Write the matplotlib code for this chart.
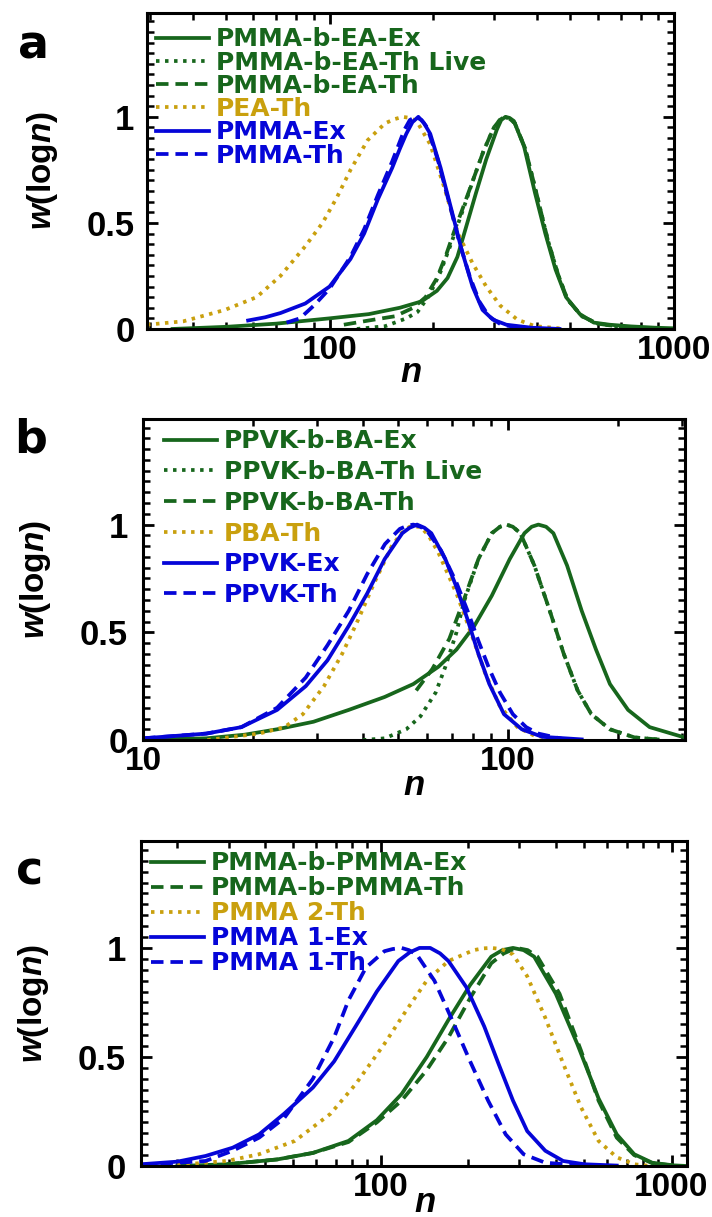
import matplotlib
matplotlib.use("Agg")
import matplotlib.pyplot as plt
from matplotlib.ticker import LogLocator, NullFormatter, MultipleLocator, FuncFormatter

plt.rcParams['font.family'] = ['Liberation Sans', 'DejaVu Sans']
plt.rcParams['font.weight'] = 'bold'
plt.rcParams['mathtext.fontset'] = 'custom'
plt.rcParams['mathtext.it'] = 'Liberation Sans:italic:bold'
plt.rcParams['mathtext.rm'] = 'Liberation Sans:bold'
plt.rcParams['lines.scale_dashes'] = False

GREEN = '#17661c'
GOLD = '#c9a00e'
BLUE = '#0505d8'

SOLID = '-'
DASHED = (0, (9, 5))
DOTTED = (0, (2.5, 4))

# ---------------- panel a ----------------
a_bEA_ex_n = [35, 50, 70, 100, 130, 160, 185, 205, 220, 235, 248, 266, 285, 306, 315, 324, 333, 343,
              367, 395, 423, 453, 486, 533, 585, 650, 750, 880, 1000]
a_bEA_ex_w = [0.0, 0.01, 0.025, 0.05, 0.07, 0.1, 0.13, 0.18, 0.24, 0.34, 0.47, 0.64, 0.8, 0.94, 0.985,
              1.0, 0.995, 0.98, 0.86, 0.64, 0.45, 0.28, 0.15, 0.07, 0.03, 0.02, 0.012, 0.006, 0.003]
a_bEA_live_n = [120, 145, 167, 180, 195, 210, 225, 245, 262, 280, 300, 312, 322, 334, 345, 370, 400,
                430, 460, 490, 540, 600, 700]
a_bEA_live_w = [0.0, 0.013, 0.05, 0.08, 0.16, 0.27, 0.4, 0.57, 0.71, 0.84, 0.95, 0.985, 1.0, 0.99,
                0.97, 0.85, 0.63, 0.42, 0.26, 0.14, 0.06, 0.025, 0.01]
a_bEA_th_n = [110, 130, 155, 175, 190, 205, 218, 230, 245, 262, 280, 300, 312, 322, 334, 345, 370, 400,
              430, 460, 490, 540, 600, 700, 850]
a_bEA_th_w = [0.02, 0.04, 0.06, 0.1, 0.15, 0.24, 0.35, 0.46, 0.58, 0.71, 0.84, 0.95, 0.985, 1.0, 0.99,
              0.97, 0.85, 0.63, 0.42, 0.26, 0.14, 0.06, 0.025, 0.01, 0.003]
a_pea_th_n = [29.5, 37.6, 49.7, 61.4, 72, 85, 95.4, 105, 115, 129, 145, 155, 163, 171, 179, 196, 215,
              236, 260, 285, 313, 351, 395, 465]
a_pea_th_w = [0.02, 0.036, 0.09, 0.15, 0.25, 0.39, 0.5, 0.62, 0.75, 0.89, 0.97, 0.99, 1.0, 0.995, 0.98,
              0.87, 0.67, 0.45, 0.31, 0.2, 0.11, 0.044, 0.013, 0.003]
a_pmma_ex_n = [58, 65, 72, 85, 100, 115, 126, 138, 152, 160, 167, 174, 181, 188, 196, 210, 226, 242,
               260, 278, 298, 326, 385, 465]
a_pmma_ex_w = [0.04, 0.055, 0.075, 0.12, 0.2, 0.33, 0.45, 0.61, 0.76, 0.85, 0.92, 0.975, 1.0, 0.97,
               0.92, 0.76, 0.56, 0.37, 0.2, 0.09, 0.044, 0.02, 0.006, 0.0]
a_pmma_th_n = [75, 82, 90, 100, 115, 126, 138, 152, 165, 171, 178, 185, 192, 206, 222, 238, 255, 272,
               290, 315, 360, 430]
a_pmma_th_w = [0.03, 0.05, 0.11, 0.19, 0.34, 0.47, 0.63, 0.79, 0.94, 0.985, 1.0, 0.985, 0.95, 0.8,
               0.6, 0.41, 0.25, 0.13, 0.06, 0.02, 0.005, 0.0]

# ---------------- panel b ----------------
b_bBA_ex_n = [10, 14.9, 19, 23.3, 29.3, 36.6, 45.9, 55, 64.4, 72.2, 80.8, 90.2, 101, 110.8, 116, 121,
              127, 133, 145, 159, 174, 190, 213, 244, 300]
b_bBA_ex_w = [0.002, 0.008, 0.025, 0.05, 0.085, 0.14, 0.2, 0.26, 0.34, 0.42, 0.53, 0.67, 0.84, 0.96,
              0.99, 1.0, 0.99, 0.96, 0.81, 0.6, 0.42, 0.26, 0.14, 0.06, 0.015]
b_bBA_live_n = [40, 45.9, 52.6, 57.5, 63.3, 67.3, 72.2, 75.6, 82.9, 90.2, 95, 99, 103, 108, 118, 130,
                142, 155, 169, 190, 222, 260]
b_bBA_live_w = [0.0, 0.008, 0.05, 0.11, 0.22, 0.34, 0.5, 0.64, 0.84, 0.96, 0.99, 1.0, 0.99, 0.96, 0.81,
                0.6, 0.4, 0.23, 0.12, 0.05, 0.012, 0.002]
b_bBA_th_n = [56, 62, 69, 75.6, 82.9, 90.2, 95, 99, 103, 108, 118, 130, 142, 155, 169, 190, 222, 260]
b_bBA_th_w = [0.23, 0.33, 0.47, 0.65, 0.84, 0.96, 0.99, 1.0, 0.99, 0.96, 0.81, 0.6, 0.4, 0.23, 0.12,
              0.05, 0.012, 0.002]
b_pba_th_n = [15, 20.8, 24.4, 27.4, 31.3, 35.1, 38.4, 43, 48, 51, 53.7, 57.5, 60.5, 64.4, 72.2, 79,
              86.5, 94.7, 106, 118, 140]
b_pba_th_w = [0.0, 0.03, 0.06, 0.12, 0.25, 0.4, 0.54, 0.73, 0.9, 0.96, 0.99, 0.99, 0.95, 0.87, 0.68,
              0.5, 0.31, 0.16, 0.06, 0.02, 0.002]
b_ppvk_ex_n = [10, 14.9, 18.6, 23.3, 27.9, 32, 36.6, 41.1, 45.9, 51.3, 53.7, 56.3, 59, 61.6, 67.3,
               72.2, 77.4, 82.9, 88.8, 97.4, 109, 124, 159]
b_ppvk_ex_w = [0.008, 0.03, 0.06, 0.14, 0.25, 0.37, 0.53, 0.68, 0.84, 0.96, 0.985, 1.0, 0.985, 0.96,
               0.84, 0.71, 0.56, 0.4, 0.26, 0.12, 0.05, 0.015, 0.003]
b_ppvk_th_n = [10, 14.9, 18.6, 23.3, 27.9, 32, 36.6, 41.1, 46, 50.5, 53, 55, 57.5, 60, 65.5, 72.2,
               77.4, 82.9, 88.8, 95, 103, 112, 121, 141]
b_ppvk_th_w = [0.008, 0.03, 0.06, 0.15, 0.29, 0.44, 0.6, 0.77, 0.91, 0.98, 0.995, 1.0, 0.99, 0.97,
               0.88, 0.73, 0.6, 0.46, 0.33, 0.22, 0.12, 0.06, 0.03, 0.005]

# ---------------- panel c ----------------
c_bP_ex_n = [20, 29.6, 44, 58.5, 77.5, 97, 118, 144, 171, 203, 240, 262, 285, 310, 337, 400, 474, 561,
             648, 744, 858, 1015, 1130]
c_bP_ex_w = [0.0, 0.008, 0.03, 0.06, 0.115, 0.21, 0.33, 0.5, 0.67, 0.83, 0.96, 0.99, 1.0, 0.99, 0.96,
             0.79, 0.56, 0.31, 0.145, 0.054, 0.015, 0.003, 0.0]
c_bP_th_n = [29.6, 44, 58.5, 77.5, 97, 118, 144, 171, 203, 240, 265, 293, 320, 346, 412, 488, 561, 648,
             744, 858, 1015]
c_bP_th_w = [0.008, 0.03, 0.06, 0.11, 0.2, 0.3, 0.44, 0.59, 0.77, 0.93, 0.975, 1.0, 0.99, 0.96, 0.79,
             0.53, 0.3, 0.13, 0.05, 0.013, 0.002]
c_p2_th_n = [20, 29.6, 38.2, 50.7, 67.3, 82, 103, 122, 144, 171, 209, 225, 240, 260, 285, 319, 368,
             424, 488, 561, 648, 744, 850]
c_p2_th_w = [0.005, 0.023, 0.054, 0.115, 0.24, 0.375, 0.56, 0.71, 0.85, 0.94, 0.99, 0.998, 1.0, 0.995,
             0.97, 0.87, 0.68, 0.47, 0.27, 0.115, 0.04, 0.008, 0.0]
c_p1_ex_n = [15, 20, 25, 31, 38.2, 46.6, 58.5, 69.2, 82, 97, 115, 126, 136, 148, 160, 171, 197, 227,
             254, 285, 319, 368, 424, 502, 648]
c_p1_ex_w = [0.008, 0.02, 0.046, 0.084, 0.145, 0.24, 0.36, 0.48, 0.64, 0.8, 0.94, 0.98, 1.0, 1.0,
             0.975, 0.94, 0.82, 0.64, 0.47, 0.3, 0.16, 0.07, 0.023, 0.008, 0.002]
c_p1_th_n = [15, 25, 31, 38.2, 46.6, 58.5, 69.2, 77.5, 89, 103, 110, 118, 125, 133, 153, 176, 203,
             234, 269, 310, 368, 488]
c_p1_th_w = [0.005, 0.023, 0.07, 0.13, 0.22, 0.4, 0.59, 0.76, 0.91, 0.985, 0.995, 1.0, 0.99, 0.97,
             0.85, 0.67, 0.48, 0.3, 0.145, 0.054, 0.015, 0.003]

panels = [
    dict(letter='a', rect=[147 / 712, 0.7297, 527 / 712, 0.2597], xlim=(29.5, 1000),
         xticks=[100, 1000], letter_xy=(33, 46), leg_anchor=(0.017, 0.954), spacing=-0.03,
         ypad=9, xlabel_xy=(0.5, -0.085),
         series=[
             (a_bEA_ex_n, a_bEA_ex_w, GREEN, SOLID, 'PMMA-b-EA-Ex'),
             (a_bEA_live_n, a_bEA_live_w, GREEN, DOTTED, 'PMMA-b-EA-Th Live'),
             (a_bEA_th_n, a_bEA_th_w, GREEN, DASHED, 'PMMA-b-EA-Th'),
             (a_pea_th_n, a_pea_th_w, GOLD, DOTTED, 'PEA-Th'),
             (a_pmma_ex_n, a_pmma_ex_w, BLUE, SOLID, 'PMMA-Ex'),
             (a_pmma_th_n, a_pmma_th_w, BLUE, DASHED, 'PMMA-Th'),
         ]),
    dict(letter='b', rect=[143 / 712, 0.3919, 542 / 712, 0.2638], xlim=(10, 305),
         xticks=[10, 100], letter_xy=(31, 440), leg_anchor=(0.038, 0.968), spacing=0.27,
         ypad=11, xlabel_xy=(0.5, -0.09),
         series=[
             (b_bBA_ex_n, b_bBA_ex_w, GREEN, SOLID, 'PPVK-b-BA-Ex'),
             (b_bBA_live_n, b_bBA_live_w, GREEN, DOTTED, 'PPVK-b-BA-Th Live'),
             (b_bBA_th_n, b_bBA_th_w, GREEN, DASHED, 'PPVK-b-BA-Th'),
             (b_pba_th_n, b_pba_th_w, GOLD, DOTTED, 'PBA-Th'),
             (b_ppvk_ex_n, b_ppvk_ex_w, BLUE, SOLID, 'PPVK-Ex'),
             (b_ppvk_th_n, b_ppvk_th_w, BLUE, DASHED, 'PPVK-Th'),
         ]),
    dict(letter='c', rect=[141 / 712, 0.0419, 546 / 712, 0.2670], xlim=(15, 1130),
         xticks=[100, 1000], letter_xy=(30, 872), leg_anchor=(0.018, 0.968), spacing=0.04,
         ypad=11, xlabel_xy=(0.52, -0.062),
         series=[
             (c_bP_ex_n, c_bP_ex_w, GREEN, SOLID, 'PMMA-b-PMMA-Ex'),
             (c_bP_th_n, c_bP_th_w, GREEN, DASHED, 'PMMA-b-PMMA-Th'),
             (c_p2_th_n, c_p2_th_w, GOLD, DOTTED, 'PMMA 2-Th'),
             (c_p1_ex_n, c_p1_ex_w, BLUE, SOLID, 'PMMA 1-Ex'),
             (c_p1_th_n, c_p1_th_w, BLUE, DASHED, 'PMMA 1-Th'),
         ]),
]

fig = plt.figure(figsize=(7.12, 12.17), dpi=100)

for p in panels:
    ax = fig.add_axes(p['rect'])
    for n, w, color, ls, label in p['series']:
        ax.plot(n, w, color=color, linestyle=ls, lw=2.7, label=label)

    ax.set_xscale('log')
    ax.set_xlim(*p['xlim'])
    ax.set_ylim(0, 1.49)
    ax.set_xticks(p['xticks'])
    ax.set_xticklabels([str(t) for t in p['xticks']])
    ax.xaxis.set_minor_locator(LogLocator(base=10, subs=range(2, 10), numticks=20))
    ax.xaxis.set_minor_formatter(NullFormatter())
    ax.yaxis.set_major_locator(MultipleLocator(0.5))
    ax.yaxis.set_minor_locator(MultipleLocator(0.05))
    ax.yaxis.set_major_formatter(FuncFormatter(lambda v, pos: '%g' % v))

    for s in ax.spines.values():
        s.set_linewidth(2.2)
    ax.tick_params(which='both', direction='in', top=True, right=True)
    ax.tick_params(axis='y', labelsize=25, pad=p['ypad'])
    ax.tick_params(axis='x', labelsize=24, pad=4)
    ax.tick_params(which='major', length=8, width=2.0)
    ax.tick_params(which='minor', length=5, width=1.8)

    ax.set_ylabel(r'$w$(log$n$)', fontsize=24, fontweight='bold', labelpad=19)
    ax.set_xlabel(r'$n$', fontsize=25)
    ax.xaxis.set_label_coords(*p['xlabel_xy'])

    ax.legend(loc='upper left', bbox_to_anchor=p['leg_anchor'], frameon=False,
              prop={'family': 'DejaVu Sans', 'weight': 'bold', 'size': 18},
              handlelength=2.12, handletextpad=0.28,
              labelspacing=p['spacing'], borderpad=0, borderaxespad=0,
              labelcolor='linecolor')

    lx, ly = p['letter_xy']
    fig.text(lx / 712, 1 - ly / 1217, p['letter'], fontsize=33, fontweight='bold',
             family='DejaVu Sans', ha='center', va='center')

fig.savefig('out.png', dpi=100)
